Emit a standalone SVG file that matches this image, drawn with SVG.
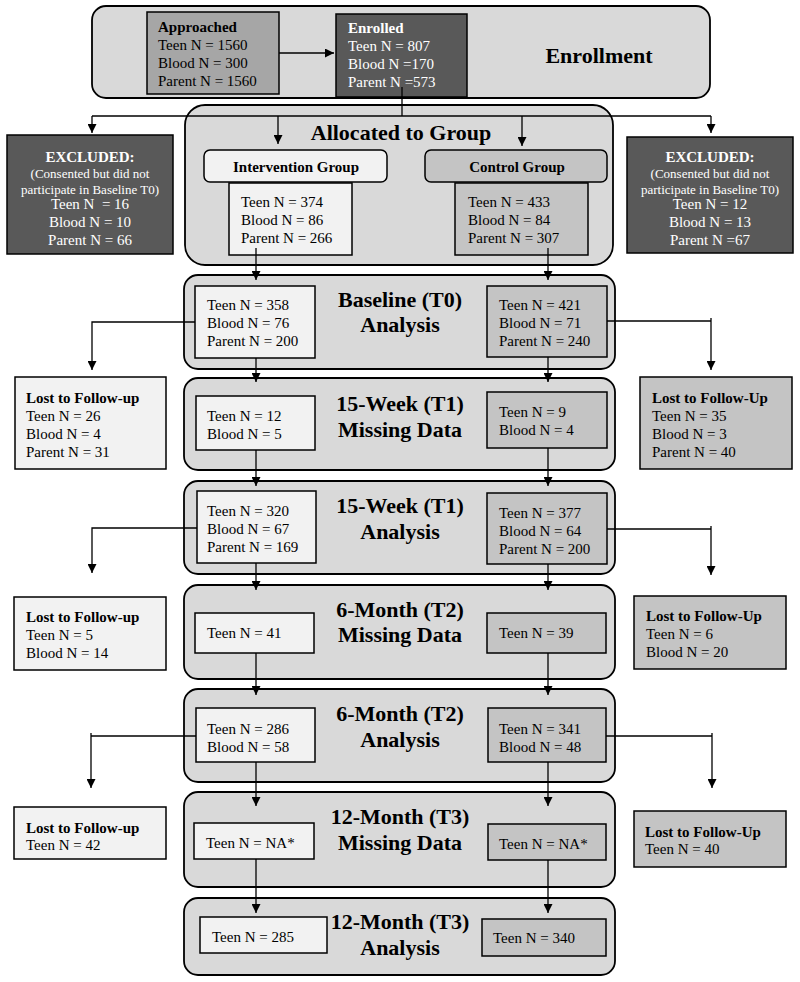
<svg xmlns="http://www.w3.org/2000/svg" width="800" height="982" viewBox="0 0 800 982">
<defs>
<marker id="ah" viewBox="0 0 10 10" refX="10" refY="5" markerWidth="9" markerHeight="9" markerUnits="userSpaceOnUse" orient="auto"><path d="M0,0 L10,5 L0,10 z" fill="#000"/></marker>
<style>
.cont{fill:#d9d9d9;stroke:#000;stroke-width:1.8}
.lt{fill:#f2f2f2;stroke:#000;stroke-width:1.5}
.md{fill:#c4c4c4;stroke:#000;stroke-width:1.5}
.gr{fill:#a6a6a6;stroke:#000;stroke-width:1.5}
.dk{fill:#595959;stroke:#000;stroke-width:1.5}
text{font-family:"Liberation Serif","Times New Roman",serif;font-size:15px;fill:#000}
.b{font-weight:bold}
.t{font-weight:bold;font-size:22px;text-anchor:middle}
.w{fill:#fff}
.c{text-anchor:middle}
.s{font-size:13px}
.cn line,.cn polyline{stroke:#000;stroke-width:1.3;fill:none}
</style>
</defs>
<rect width="800" height="982" fill="#fff"/>

<g id="enrollment">
<rect class="cont" x="92" y="6" width="618" height="92" rx="14"/>
<text class="t" x="599" y="63">Enrollment</text>
</g>
<g id="approached">
<rect class="gr" x="147" y="12" width="132" height="82"/>
<text x="158" y="32" class="b">Approached</text>
<text x="158" y="50">Teen N = 1560</text>
<text x="158" y="68">Blood N = 300</text>
<text x="158" y="86">Parent N = 1560</text>
</g>
<g id="enrolled">
<rect class="dk" x="336" y="14" width="131" height="83"/>
<text x="348" y="33" class="b w">Enrolled</text>
<text x="348" y="51" class="w">Teen N = 807</text>
<text x="348" y="69" class="w">Blood N =170</text>
<text x="348" y="87" class="w">Parent N =573</text>
</g>

<g id="allocated">
<rect class="cont" x="185" y="105" width="428" height="160" rx="20"/>
<text class="t" x="401" y="140">Allocated to Group</text>
</g>
<g id="intervention-group">
<rect class="lt" x="204" y="150" width="183" height="32" rx="6"/>
<text class="b c" x="296" y="172">Intervention Group</text>
</g>
<g id="control-group">
<rect class="md" x="425" y="150" width="182" height="32" rx="6"/>
<text class="b c" x="517" y="172">Control Group</text>
</g>
<g id="intervention-n">
<rect class="lt" x="229" y="183" width="123" height="72"/>
<text x="241" y="207">Teen N = 374</text>
<text x="241" y="225">Blood N = 86</text>
<text x="241" y="243">Parent N = 266</text>
</g>
<g id="control-n">
<rect class="md" x="455" y="183" width="133" height="72"/>
<text x="468" y="207">Teen N = 433</text>
<text x="468" y="225">Blood N = 84</text>
<text x="468" y="243">Parent N = 307</text>
</g>
<g id="excluded-left">
<rect class="dk" x="7" y="135" width="166" height="119"/>
<text class="b c w" x="90" y="162">EXCLUDED:</text>
<text class="c w s" x="90" y="178">(Consented but did not</text>
<text class="c w s" x="90" y="194">participate in Baseline T0)</text>
<text class="c w" x="90" y="209" xml:space="preserve">Teen N  = 16</text>
<text class="c w" x="90" y="227">Blood N = 10</text>
<text class="c w" x="90" y="245">Parent N = 66</text>
</g>
<g id="excluded-right">
<rect class="dk" x="627" y="137" width="166" height="116"/>
<text class="b c w" x="710" y="162">EXCLUDED:</text>
<text class="c w s" x="710" y="178">(Consented but did not</text>
<text class="c w s" x="710" y="194">participate in Baseline T0)</text>
<text class="c w" x="710" y="209">Teen N = 12</text>
<text class="c w" x="710" y="227">Blood N = 13</text>
<text class="c w" x="710" y="245">Parent N =67</text>
</g>

<g id="baseline">
<rect class="cont" x="184" y="275" width="431" height="94" rx="14"/>
<text class="t" x="400" y="307">Baseline (T0)</text>
<text class="t" x="400" y="332">Analysis</text>
</g>
<g id="baseline-int">
<rect class="lt" x="195" y="286" width="120" height="72"/>
<text x="207" y="310">Teen N = 358</text>
<text x="207" y="328">Blood N = 76</text>
<text x="207" y="346">Parent N = 200</text>
</g>
<g id="baseline-ctl">
<rect class="md" x="487" y="286" width="120" height="71"/>
<text x="499" y="310">Teen N = 421</text>
<text x="499" y="328">Blood N = 71</text>
<text x="499" y="346">Parent N = 240</text>
</g>
<g id="lost1-left">
<rect class="lt" x="15" y="377" width="151" height="92"/>
<text class="b" x="26" y="403">Lost to Follow-up</text>
<text x="26" y="421">Teen N = 26</text>
<text x="26" y="439">Blood N = 4</text>
<text x="26" y="457">Parent N = 31</text>
</g>
<g id="lost1-right">
<rect class="md" x="640" y="377" width="152" height="92"/>
<text class="b" x="652" y="403">Lost to Follow-Up</text>
<text x="652" y="421">Teen N = 35</text>
<text x="652" y="439">Blood N = 3</text>
<text x="652" y="457">Parent N = 40</text>
</g>

<g id="t1-missing">
<rect class="cont" x="184" y="378" width="431" height="92" rx="14"/>
<text class="t" x="400" y="411">15-Week (T1)</text>
<text class="t" x="400" y="437">Missing Data</text>
</g>
<g id="t1-missing-int">
<rect class="lt" x="196" y="396" width="119" height="54"/>
<text x="207" y="421">Teen N = 12</text>
<text x="207" y="439">Blood N = 5</text>
</g>
<g id="t1-missing-ctl">
<rect class="md" x="487" y="392" width="120" height="56"/>
<text x="499" y="417">Teen N = 9</text>
<text x="499" y="435">Blood N = 4</text>
</g>

<g id="t1-analysis">
<rect class="cont" x="184" y="481" width="431" height="93" rx="14"/>
<text class="t" x="400" y="513">15-Week (T1)</text>
<text class="t" x="400" y="539">Analysis</text>
</g>
<g id="t1-analysis-int">
<rect class="lt" x="197" y="491" width="119" height="72"/>
<text x="207" y="516">Teen N = 320</text>
<text x="207" y="534">Blood N = 67</text>
<text x="207" y="552">Parent N = 169</text>
</g>
<g id="t1-analysis-ctl">
<rect class="md" x="487" y="493" width="120" height="71"/>
<text x="499" y="518">Teen N = 377</text>
<text x="499" y="536">Blood N = 64</text>
<text x="499" y="554">Parent N = 200</text>
</g>
<g id="lost2-left">
<rect class="lt" x="14" y="597" width="152" height="73"/>
<text class="b" x="26" y="622">Lost to Follow-up</text>
<text x="26" y="640">Teen N = 5</text>
<text x="26" y="658">Blood N = 14</text>
</g>
<g id="lost2-right">
<rect class="md" x="634" y="596" width="152" height="73"/>
<text class="b" x="646" y="621">Lost to Follow-Up</text>
<text x="646" y="639">Teen N = 6</text>
<text x="646" y="657">Blood N = 20</text>
</g>

<g id="t2-missing">
<rect class="cont" x="184" y="585" width="431" height="94" rx="14"/>
<text class="t" x="400" y="617">6-Month (T2)</text>
<text class="t" x="400" y="642">Missing Data</text>
</g>
<g id="t2-missing-int">
<rect class="lt" x="195" y="613" width="119" height="40"/>
<text x="207" y="638">Teen N = 41</text>
</g>
<g id="t2-missing-ctl">
<rect class="md" x="487" y="613" width="119" height="40"/>
<text x="499" y="638">Teen N = 39</text>
</g>

<g id="t2-analysis">
<rect class="cont" x="184" y="689" width="431" height="93" rx="14"/>
<text class="t" x="400" y="721">6-Month (T2)</text>
<text class="t" x="400" y="747">Analysis</text>
</g>
<g id="t2-analysis-int">
<rect class="lt" x="196" y="708" width="119" height="54"/>
<text x="207" y="734">Teen N = 286</text>
<text x="207" y="752">Blood N = 58</text>
</g>
<g id="t2-analysis-ctl">
<rect class="md" x="488" y="708" width="118" height="54"/>
<text x="499" y="734">Teen N = 341</text>
<text x="499" y="752">Blood N = 48</text>
</g>
<g id="lost3-left">
<rect class="lt" x="14" y="807" width="152" height="52"/>
<text class="b" x="26" y="833">Lost to Follow-up</text>
<text x="26" y="850">Teen N = 42</text>
</g>
<g id="lost3-right">
<rect class="md" x="634" y="811" width="152" height="56"/>
<text class="b" x="645" y="837">Lost to Follow-Up</text>
<text x="645" y="854">Teen N = 40</text>
</g>

<g id="t3-missing">
<rect class="cont" x="184" y="792" width="431" height="95" rx="14"/>
<text class="t" x="400" y="824">12-Month (T3)</text>
<text class="t" x="400" y="850">Missing Data</text>
</g>
<g id="t3-missing-int">
<rect class="lt" x="194" y="823" width="120" height="36"/>
<text x="206" y="848">Teen N = NA*</text>
</g>
<g id="t3-missing-ctl">
<rect class="md" x="488" y="824" width="118" height="36"/>
<text x="499" y="849">Teen N = NA*</text>
</g>

<g id="t3-analysis">
<rect class="cont" x="184" y="898" width="431" height="77" rx="14"/>
<text class="t" x="400" y="929">12-Month (T3)</text>
<text class="t" x="400" y="955">Analysis</text>
</g>
<g id="t3-analysis-int">
<rect class="lt" x="200" y="917" width="127" height="36"/>
<text x="212" y="942">Teen N = 285</text>
</g>
<g id="t3-analysis-ctl">
<rect class="md" x="482" y="919" width="124" height="37"/>
<text x="493" y="943">Teen N = 340</text>
</g>

<g id="connectors" class="cn">
<line x1="279" y1="53" x2="334" y2="53" marker-end="url(#ah)"/>
<line x1="402" y1="87" x2="402" y2="116"/>
<line x1="92" y1="116" x2="711" y2="116"/>
<line x1="92" y1="116" x2="92" y2="133" marker-end="url(#ah)"/>
<line x1="278" y1="116" x2="278" y2="144" marker-end="url(#ah)"/>
<line x1="522" y1="116" x2="522" y2="146" marker-end="url(#ah)"/>
<line x1="711" y1="116" x2="711" y2="133" marker-end="url(#ah)"/>

<line x1="256" y1="248" x2="256" y2="280" marker-end="url(#ah)"/>
<line x1="548" y1="248" x2="548" y2="280" marker-end="url(#ah)"/>

<polyline points="195,322 92,322 92,370" marker-end="url(#ah)"/>
<polyline points="607,321 711,321"/>
<line x1="711" y1="318" x2="711" y2="370" marker-end="url(#ah)"/>
<line x1="256" y1="358" x2="256" y2="382" marker-end="url(#ah)"/>
<line x1="548" y1="357" x2="548" y2="382" marker-end="url(#ah)"/>

<line x1="256" y1="450" x2="256" y2="486" marker-end="url(#ah)"/>
<line x1="548" y1="448" x2="548" y2="486" marker-end="url(#ah)"/>

<polyline points="197,528 92,528 92,573" marker-end="url(#ah)"/>
<polyline points="607,529 711,529"/>
<line x1="711" y1="526" x2="711" y2="575" marker-end="url(#ah)"/>
<line x1="256" y1="563" x2="256" y2="590" marker-end="url(#ah)"/>
<line x1="548" y1="564" x2="548" y2="590" marker-end="url(#ah)"/>

<line x1="256" y1="653" x2="256" y2="695" marker-end="url(#ah)"/>
<line x1="548" y1="653" x2="548" y2="695" marker-end="url(#ah)"/>

<polyline points="196,736 91,736"/>
<line x1="91" y1="733" x2="91" y2="788" marker-end="url(#ah)"/>
<polyline points="606,736 712,736"/>
<line x1="712" y1="733" x2="712" y2="788" marker-end="url(#ah)"/>
<line x1="256" y1="762" x2="256" y2="806" marker-end="url(#ah)"/>
<line x1="548" y1="762" x2="548" y2="806" marker-end="url(#ah)"/>

<line x1="256" y1="859" x2="256" y2="913" marker-end="url(#ah)"/>
<line x1="548" y1="860" x2="548" y2="913" marker-end="url(#ah)"/>
</g>
</svg>
